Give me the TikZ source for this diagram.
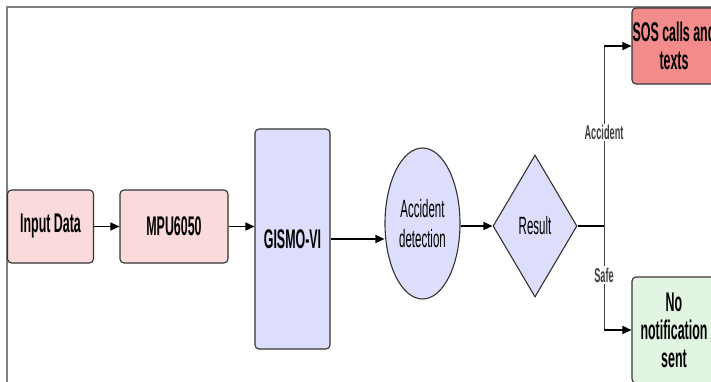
\documentclass[tikz,border=0pt]{standalone}
\usepackage{fontspec}
\usepackage{tikz}
\usetikzlibrary{arrows.meta, shapes.geometric}
\newfontfamily\narrowfont[FakeStretch=0.46]{Liberation Sans}
\definecolor{flowpink}{RGB}{250, 218, 218}
\definecolor{flowlavender}{RGB}{221, 221, 252}
\definecolor{flowred}{RGB}{242, 140, 140}
\definecolor{flowgreen}{RGB}{226, 245, 226}
\definecolor{flowframe}{RGB}{128, 128, 128}

\begin{document}
\begin{tikzpicture}[
      x=1pt, y=-1pt,
      box/.style={draw=black!80, line width=1.1pt, rounded corners=4pt, inner sep=0pt,
                  font=\narrowfont\bfseries\fontsize{27}{28}\selectfont, align=center},
      shape box/.style={draw=black!80, line width=1.1pt, inner sep=0pt, fill=flowlavender,
                  font=\narrowfont\fontsize{25}{30}\selectfont, align=center},
      arrow/.style={-{Triangle[length=9pt, width=8pt]}, line width=1.4pt, black},
      branch/.style={line width=0.9pt, black!75},
      tag/.style={fill=white, inner sep=1.5pt, font=\narrowfont\bfseries\fontsize{20}{22}\selectfont}
    ]
      \useasboundingbox (0,0) rectangle (711,382);
      \clip (0,0) rectangle (711,382);

      % Cadre
      \draw[flowframe, line width=2pt] (711,7) -- (7,7) -- (7,382);

      % Chaine de traitement
      \node[box, fill=flowpink, minimum width=86pt, minimum height=73pt] (input) at (50.5,226.5) {Input Data};
      \node[box, fill=flowpink, minimum width=108pt, minimum height=73pt] (mpu) at (174,226.5) {MPU6050};
      \node[box, fill=flowlavender, minimum width=75pt, minimum height=220pt] (gismo) at (292.5,239) {GISMO-VI};

      % Detection et decision
      \node[shape box, ellipse, minimum width=75pt, minimum height=151pt] (detect) at (422.5,223.5) {Accident\\detection};
      \node[shape box, diamond, minimum width=84pt, minimum height=142pt] (result) at (535,226) {Result};
      \coordinate (split) at (604,226);

      % Sorties
      \node[box, fill=flowred, minimum width=84pt, minimum height=76pt] (sos) at (674,46) {SOS calls and\\texts};
      \node[box, fill=flowgreen, minimum width=84pt, minimum height=106pt] (safe) at (674,330) {No\\notification\\sent};

      % Fleches
      \draw[arrow] (input) -- (mpu);
      \draw[arrow] (mpu.east) -- (mpu.east -| gismo.west);
      \draw[arrow] (gismo.east) -- (gismo.east -| detect.west);
      \draw[arrow] (detect.east |- result) -- (result.west);
      \draw[line width=2pt] (result.east) -- (split);
      \draw[branch] (split) |- node[tag, pos=0.26] (acclabel) {Accident} (sos.west -| 622,0);
      \draw[branch] (split) |- node[tag, pos=0.235] (safelabel) {Safe} (safe.west -| 622,0);
      \draw[arrow] (sos.west -| split) -- (sos.west);
      \draw[arrow] (safe.west -| split) -- (safe.west);
    \end{tikzpicture}
\end{document}
